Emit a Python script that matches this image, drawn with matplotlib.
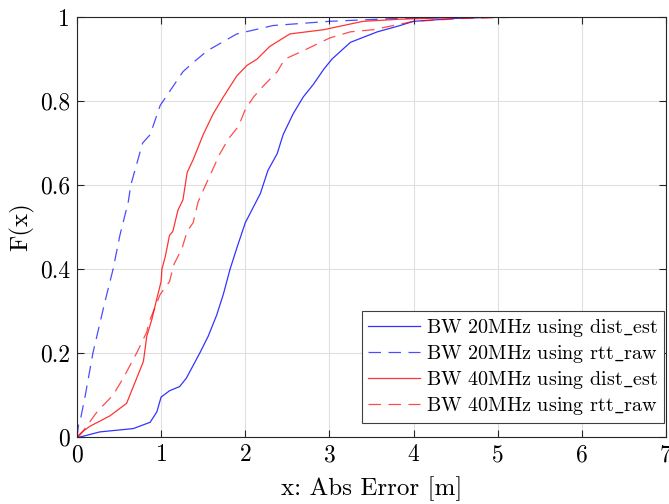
import numpy as np
import matplotlib
matplotlib.use('Agg')
import matplotlib.pyplot as plt

plt.rcParams['font.family'] = ['cmr10', 'DejaVu Serif']
plt.rcParams['mathtext.fontset'] = 'cm'
plt.rcParams['axes.formatter.use_mathtext'] = True

# CDF curves (x = abs error [m], y = F(x))
x_20_dist = [0, 0.04, 0.27, 0.67, 0.87, 0.95, 1.0, 1.1, 1.22, 1.3, 1.38, 1.46, 1.56, 1.66,
             1.74, 1.82, 1.9, 2.0, 2.18, 2.27, 2.38, 2.45, 2.57, 2.69, 2.81, 2.93, 3.03,
             3.25, 3.57, 3.84, 4.0, 4.5, 5.0, 5.5]
y_20_dist = [0, 0.0, 0.012, 0.02, 0.035, 0.06, 0.095, 0.11, 0.12, 0.14, 0.17, 0.2, 0.24, 0.29,
             0.34, 0.40, 0.45, 0.51, 0.58, 0.635, 0.675, 0.72, 0.77, 0.81, 0.84, 0.875, 0.90,
             0.94, 0.965, 0.98, 0.99, 0.997, 1.0, 1.0]

x_20_rtt = [0, 0.02, 0.04, 0.1, 0.19, 0.33, 0.43, 0.51, 0.61, 0.64, 0.78, 0.87, 0.99, 1.26,
            1.37, 1.55, 1.9, 2.33, 3.0, 3.8, 4.5, 5.7]
y_20_rtt = [0, 0.03, 0.04, 0.1, 0.2, 0.32, 0.4, 0.48, 0.56, 0.6, 0.7, 0.72, 0.79, 0.87,
            0.89, 0.92, 0.96, 0.98, 0.99, 0.997, 1.0, 1.0]

x_40_dist = [0, 0.05, 0.15, 0.39, 0.59, 0.69, 0.79, 0.83, 0.89, 0.95, 1.0, 1.01, 1.05, 1.1,
             1.14, 1.2, 1.26, 1.31, 1.38, 1.5, 1.62, 1.74, 1.9, 2.02, 2.14, 2.29, 2.53,
             2.93, 3.4, 3.84, 4.5, 5.5]
y_40_dist = [0, 0.01, 0.025, 0.05, 0.08, 0.13, 0.18, 0.24, 0.28, 0.33, 0.37, 0.40, 0.43, 0.48,
             0.49, 0.54, 0.565, 0.63, 0.66, 0.72, 0.77, 0.81, 0.86, 0.885, 0.90, 0.93, 0.96,
             0.97, 0.99, 0.995, 0.999, 1.0]

x_40_rtt = [0, 0.04, 0.24, 0.43, 0.55, 0.71, 0.83, 0.85, 0.99, 1.1, 1.15, 1.2, 1.25, 1.31,
            1.38, 1.44, 1.54, 1.62, 1.7, 1.8, 1.92, 2.0, 2.1, 2.21, 2.38, 2.47, 2.69, 3.0,
            3.25, 3.52, 4.0, 4.6, 5.3, 6.5]
y_40_rtt = [0, 0.005, 0.06, 0.10, 0.14, 0.2, 0.25, 0.27, 0.34, 0.37, 0.41, 0.43, 0.45, 0.49,
            0.51, 0.56, 0.605, 0.64, 0.675, 0.71, 0.74, 0.78, 0.81, 0.835, 0.87, 0.90, 0.92, 0.95,
            0.965, 0.97, 0.99, 0.997, 1.0, 1.0]

labels = [r'BW 20MHz using dist$\_$est', r'BW 20MHz using rtt$\_$raw',
          r'BW 40MHz using dist$\_$est', r'BW 40MHz using rtt$\_$raw']

fig = plt.figure(figsize=(6.69, 5.04), dpi=100)
ax = fig.add_axes([0.115, 0.133, 0.8805, 0.833])

dash = (0, (10, 6))
ax.plot(x_20_dist, y_20_dist, color='blue', lw=0.9, alpha=0.8, label=labels[0])
ax.plot(x_20_rtt, y_20_rtt, color='blue', lw=0.9, alpha=0.7, ls=dash, label=labels[1])
ax.plot(x_40_dist, y_40_dist, color='red', lw=0.9, alpha=0.8, label=labels[2])
ax.plot(x_40_rtt, y_40_rtt, color='red', lw=0.9, alpha=0.7, ls=dash, label=labels[3])

ax.set_xlim(0, 7)
ax.set_ylim(0, 1)
ax.set_xticks(range(8))
ax.set_yticks([0, 0.2, 0.4, 0.6, 0.8, 1])
ax.set_yticklabels(['0', '0.2', '0.4', '0.6', '0.8', '1'])
ax.grid(True, color='0.88', lw=0.8)
ax.tick_params(direction='in', top=True, right=True, labelsize=17, length=5, color='0.15', pad=5)
for s in ax.spines.values():
    s.set_color('0.15')
    s.set_linewidth(0.8)
ax.set_xlabel('x: Abs Error [m]', fontsize=18, labelpad=7)
ax.set_ylabel('F(x)', fontsize=18, labelpad=4)

leg = ax.legend(loc='lower right', bbox_to_anchor=(0.997, 0.033), borderaxespad=0,
                fontsize=14.5, fancybox=False, framealpha=1, edgecolor='0.25',
                handlelength=2.6, handletextpad=0.3, labelspacing=0.2, borderpad=0.3)
leg.get_frame().set_linewidth(0.8)

fig.savefig('out.png', dpi=100)
